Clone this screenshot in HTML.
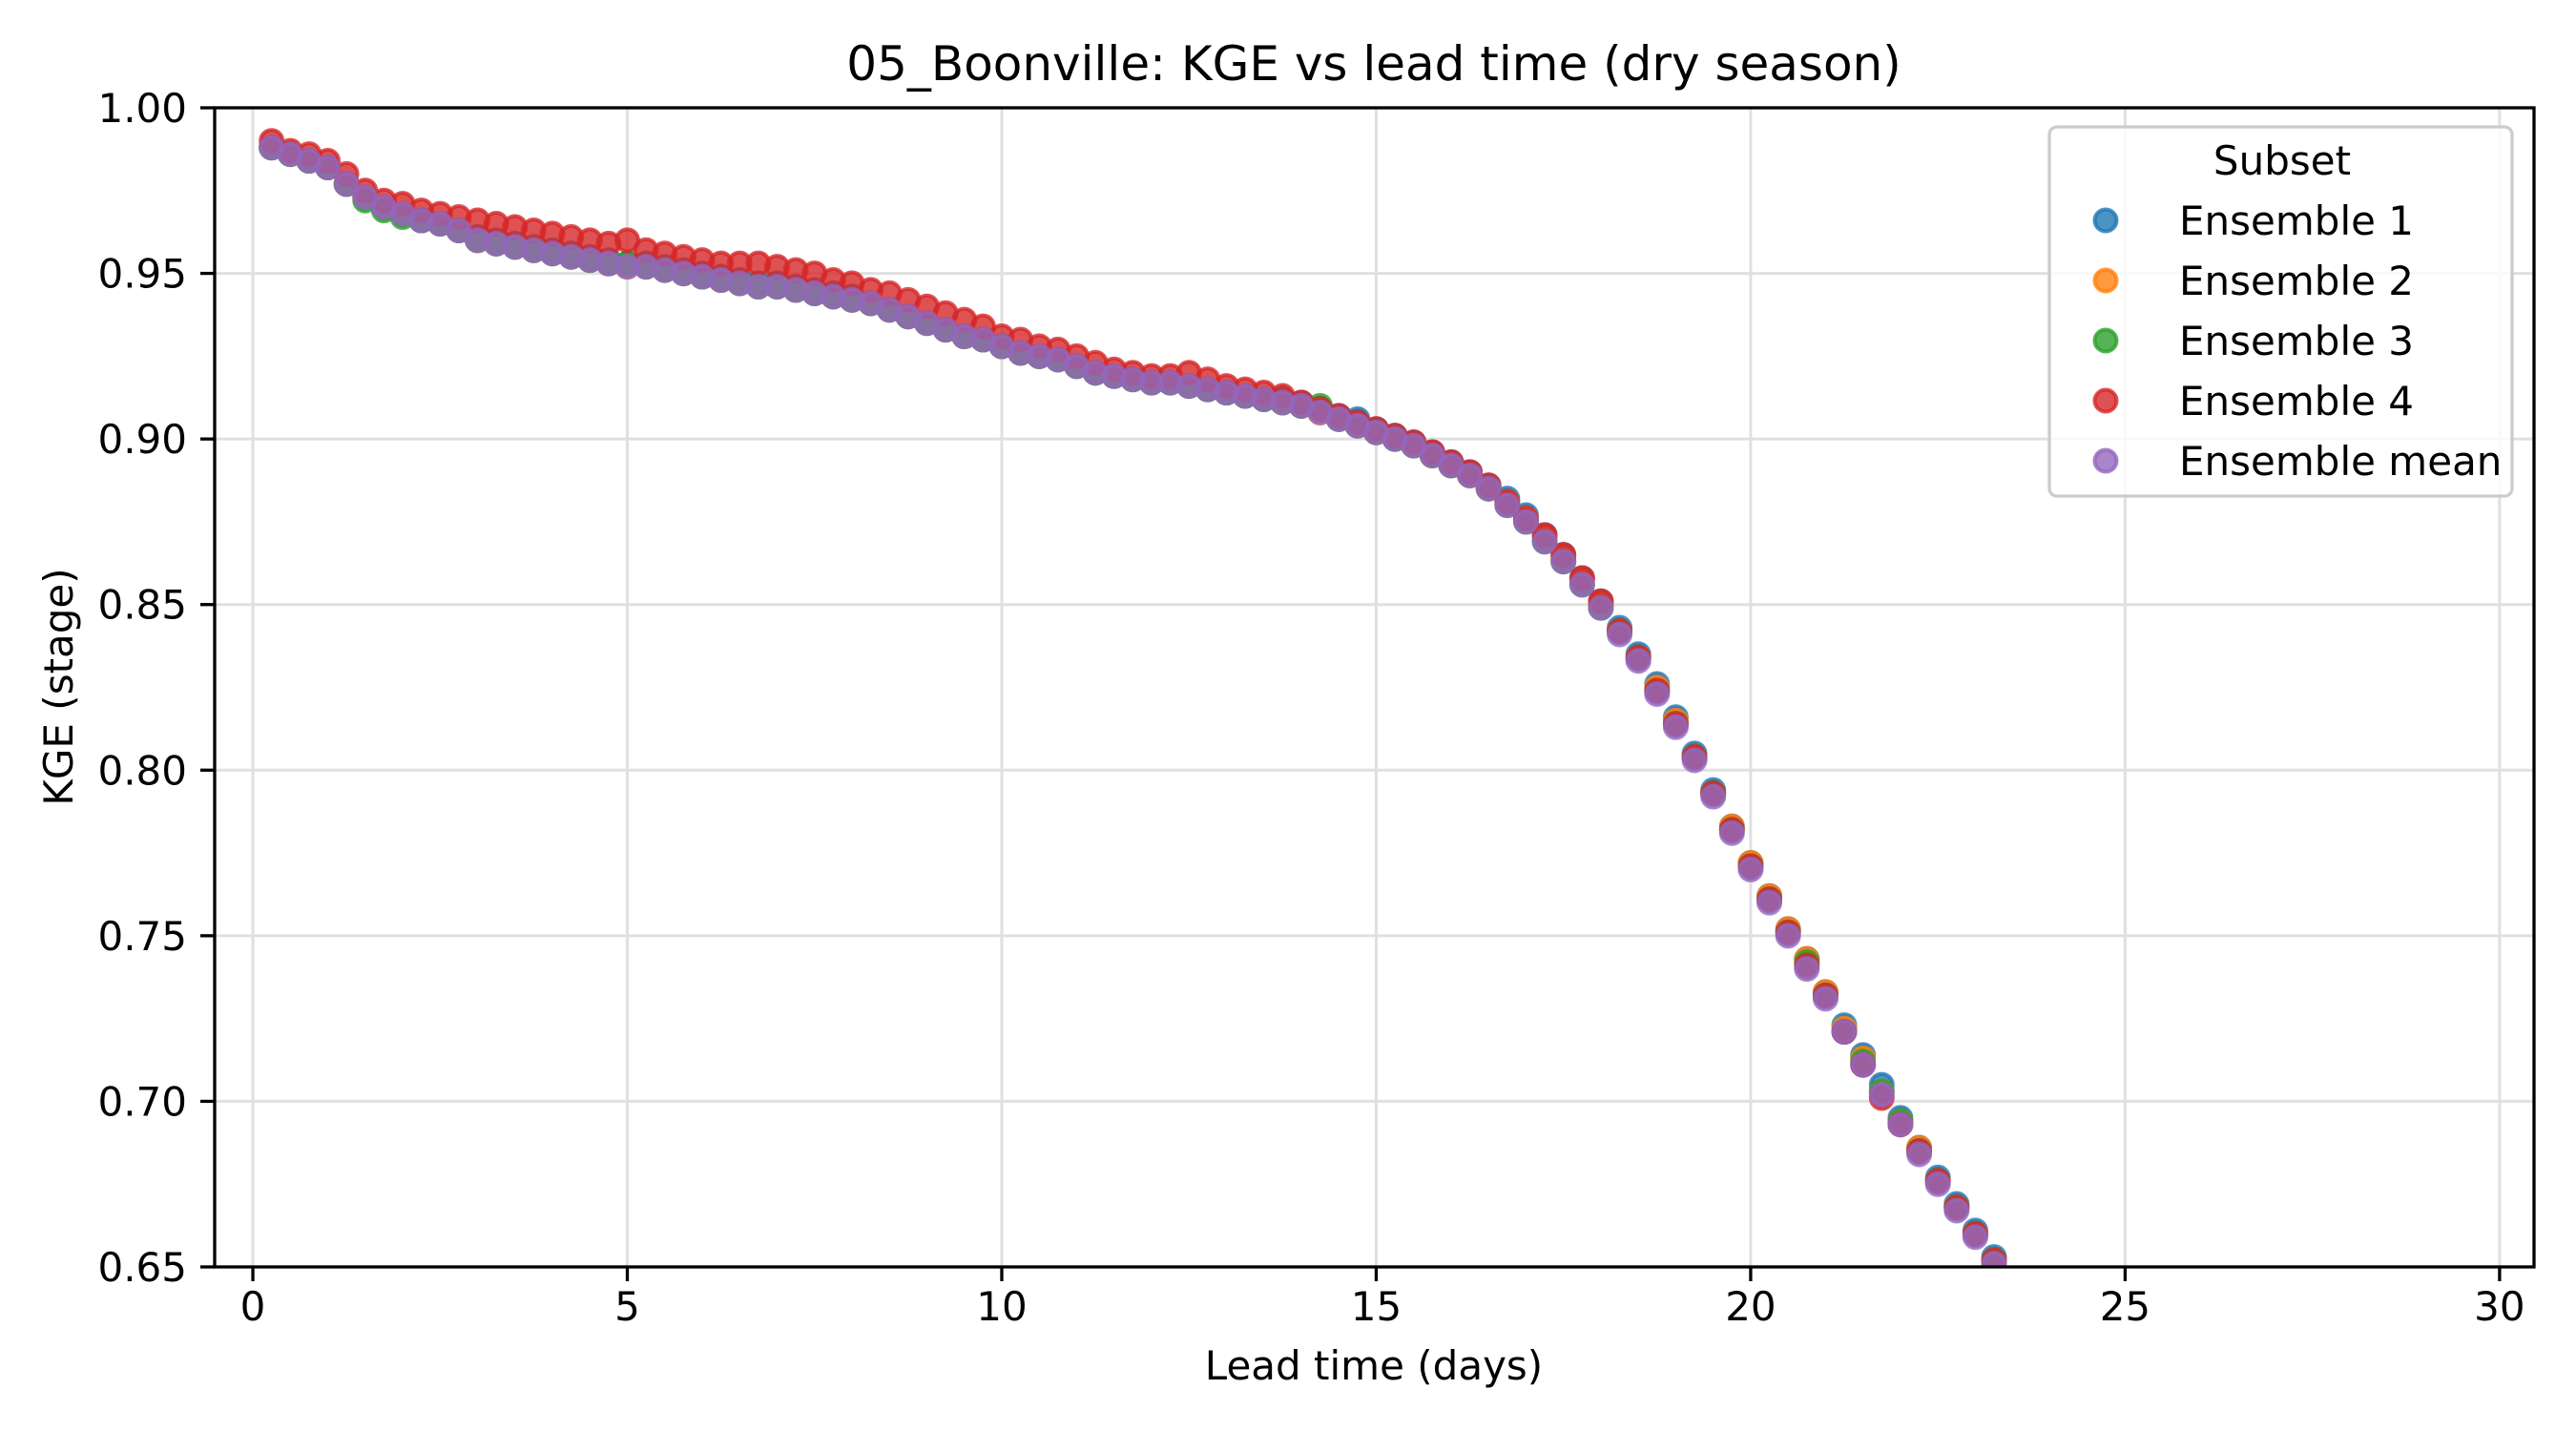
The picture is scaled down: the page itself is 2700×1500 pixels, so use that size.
<!DOCTYPE html>
<html><head><meta charset="utf-8"><style>
html,body{margin:0;padding:0;background:#fff;}
svg{display:block;font-family:"DejaVu Sans","Liberation Sans",sans-serif;}
</style></head><body>
<svg id="chart" width="2700" height="1500" viewBox="0 0 2700 1500" xmlns="http://www.w3.org/2000/svg">
<rect width="2700" height="1500" fill="#fff"/>
<g id="grid"></g>
<g id="marks"></g>
<g id="axes"></g>
<text x="1440" y="84" font-size="50" text-anchor="middle">05_Boonville: KGE vs lead time (dry season)</text>
<text x="1440" y="1446" font-size="42" text-anchor="middle">Lead time (days)</text>
<text x="0" y="0" font-size="42" text-anchor="middle" transform="translate(76,720) rotate(-90)">KGE (stage)</text>
<g id="legend"></g>
</svg>
<script>
const xTicks = [0,5,10,15,20,25,30];
const yTicks = [0.65,0.70,0.75,0.80,0.85,0.90,0.95,1.00];
const seriesNames = ["Ensemble 1","Ensemble 2","Ensemble 3","Ensemble 4","Ensemble mean"];
const leadStep = 0.25;
const ens1 = [0.988,0.986,0.984,0.982,0.977,0.973,0.970,0.968,0.966,0.965,
0.963,0.961,0.960,0.959,0.958,0.957,0.956,0.955,0.954,0.953,
0.953,0.952,0.951,0.950,0.949,0.948,0.947,0.947,0.946,0.945,
0.944,0.943,0.941,0.939,0.937,0.935,0.933,0.931,0.930,0.928,
0.926,0.925,0.924,0.922,0.920,0.919,0.918,0.917,0.917,0.916,
0.915,0.914,0.913,0.912,0.912,0.911,0.909,0.907,0.906,0.903,
0.901,0.899,0.896,0.893,0.890,0.886,0.882,0.877,0.871,0.865,
0.858,0.851,0.843,0.835,0.826,0.816,0.805,0.794,0.783,0.772,
0.762,0.752,0.743,0.733,0.723,0.714,0.705,0.695,0.686,0.677,
0.669,0.661,0.653,0.645];
const ens2 = [0.988,0.986,0.984,0.982,0.977,0.973,0.970,0.968,0.966,0.965,
0.963,0.960,0.959,0.958,0.957,0.956,0.955,0.954,0.953,0.952,
0.952,0.951,0.950,0.949,0.948,0.947,0.946,0.946,0.945,0.944,
0.943,0.942,0.941,0.939,0.937,0.935,0.933,0.931,0.930,0.928,
0.926,0.925,0.924,0.922,0.920,0.919,0.918,0.917,0.917,0.916,
0.915,0.914,0.913,0.912,0.911,0.910,0.908,0.906,0.904,0.902,
0.900,0.898,0.895,0.892,0.889,0.885,0.881,0.876,0.870,0.864,
0.857,0.850,0.842,0.834,0.825,0.815,0.804,0.793,0.783,0.772,
0.762,0.752,0.743,0.733,0.722,0.713,0.703,0.694,0.686,0.676,
0.668,0.660,0.652,0.644];
const ens3 = [0.988,0.986,0.984,0.982,0.977,0.972,0.969,0.967,0.966,0.965,
0.963,0.960,0.959,0.958,0.957,0.956,0.955,0.954,0.953,0.953,
0.952,0.951,0.950,0.949,0.948,0.947,0.946,0.946,0.945,0.944,
0.943,0.942,0.941,0.939,0.937,0.935,0.933,0.931,0.930,0.928,
0.926,0.925,0.924,0.922,0.920,0.919,0.918,0.917,0.917,0.916,
0.915,0.914,0.913,0.912,0.911,0.910,0.910,0.906,0.904,0.902,
0.900,0.898,0.895,0.892,0.889,0.885,0.880,0.875,0.869,0.863,
0.856,0.849,0.842,0.834,0.824,0.814,0.804,0.793,0.782,0.771,
0.761,0.751,0.742,0.732,0.721,0.712,0.703,0.694,0.685,0.676,
0.668,0.660,0.652,0.644];
const ens4 = [0.990,0.987,0.986,0.984,0.980,0.975,0.972,0.971,0.969,0.968,
0.967,0.966,0.965,0.964,0.963,0.962,0.961,0.960,0.959,0.960,
0.957,0.956,0.955,0.954,0.953,0.953,0.953,0.952,0.951,0.950,
0.948,0.947,0.945,0.944,0.942,0.940,0.938,0.936,0.934,0.931,
0.930,0.928,0.927,0.925,0.923,0.921,0.920,0.919,0.919,0.920,
0.918,0.916,0.915,0.914,0.913,0.911,0.909,0.907,0.905,0.903,
0.901,0.899,0.896,0.893,0.890,0.886,0.881,0.876,0.871,0.865,
0.858,0.851,0.842,0.834,0.824,0.814,0.804,0.793,0.782,0.771,
0.761,0.751,0.741,0.732,0.721,0.711,0.701,0.693,0.685,0.676,
0.668,0.660,0.652,0.644];
const ensMean = [0.988,0.986,0.984,0.982,0.977,0.973,0.970,0.968,0.966,0.965,
0.963,0.960,0.959,0.958,0.957,0.956,0.955,0.954,0.953,0.952,
0.952,0.951,0.950,0.949,0.948,0.947,0.946,0.946,0.945,0.944,
0.943,0.942,0.941,0.939,0.937,0.935,0.933,0.931,0.930,0.928,
0.926,0.925,0.924,0.922,0.920,0.919,0.918,0.917,0.917,0.916,
0.915,0.914,0.913,0.912,0.911,0.910,0.908,0.906,0.904,0.902,
0.900,0.898,0.895,0.892,0.889,0.885,0.880,0.875,0.869,0.863,
0.856,0.849,0.841,0.833,0.823,0.813,0.803,0.792,0.781,0.770,
0.760,0.750,0.740,0.731,0.721,0.711,0.702,0.693,0.684,0.675,
0.667,0.659,0.651,0.643];
const allSeries = [ens1,ens2,ens3,ens4,ensMean];
const colors = ["#1f77b4","#ff7f0e","#2ca02c","#d62728","#9467bd"];

const NS="http://www.w3.org/2000/svg";
const L=225,R=2656,T=113,B=1328;
const XMIN=-0.51,XMAX=30.46,YMIN=0.65,YMAX=1.0;
function xs(v){return L+(v-XMIN)/(XMAX-XMIN)*(R-L);}
function ys(v){return B-(v-YMIN)/(YMAX-YMIN)*(B-T);}
function mk(tag,attrs,parent){const e=document.createElementNS(NS,tag);for(const k in attrs)e.setAttribute(k,attrs[k]);parent.appendChild(e);return e;}
const grid=document.getElementById('grid'),axes=document.getElementById('axes'),marks=document.getElementById('marks'),legend=document.getElementById('legend');

xTicks.forEach(t=>{
  const x=xs(t);
  const g=mk('line',{x1:x,x2:x,y1:T,y2:B,stroke:'#e0e0e0','stroke-width':3},grid);
  
  
  const tk=mk('line',{x1:x,x2:x,y1:B,y2:B+15,stroke:'#000','stroke-width':3.3},axes);
  
  
  const lb=mk('text',{x:x,y:1384,'font-size':42,'text-anchor':'middle'},axes);
  lb.textContent=String(t);
  
  
});
yTicks.forEach(t=>{
  const y=ys(t);
  const g=mk('line',{x1:L,x2:R,y1:y,y2:y,stroke:'#e0e0e0','stroke-width':3},grid);
  
  
  const tk=mk('line',{x1:L-15,x2:L,y1:y,y2:y,stroke:'#000','stroke-width':3.3},axes);
  
  
  const lb=mk('text',{x:L-29,y:y+15,'font-size':42,'text-anchor':'end'},axes);
  lb.textContent=t.toFixed(2);
  
  
});

const clip=mk('clipPath',{id:'pc'},document.getElementById('chart'));
mk('rect',{x:L,y:T,width:R-L,height:B-T},clip);
marks.setAttribute('clip-path','url(#pc)');
allSeries.forEach((arr,si)=>{
  const g=mk('g',{},marks);
  
  
  arr.forEach((v,i)=>{
    const c=mk('circle',{cx:xs((i+1)*leadStep),cy:ys(v),r:11.5,fill:colors[si],'fill-opacity':0.8,stroke:colors[si],'stroke-opacity':0.8,'stroke-width':4},g);
    
    
  });
});

const frame=mk('rect',{x:L,y:T,width:R-L,height:B-T,fill:'none',stroke:'#000','stroke-width':3.3},axes);



const box=mk('rect',{x:2148,y:133,width:485,height:387,rx:8,fill:'#fff','fill-opacity':0.8,stroke:'#cccccc','stroke-width':3.3},legend);


const lt=mk('text',{x:2392,y:183,'font-size':42,'text-anchor':'middle'},legend);
lt.textContent='Subset';


seriesNames.forEach((n,i)=>{
  const cy=231+i*63;
  const g=mk('g',{},legend);
  
  
  mk('circle',{cx:2207,cy:cy,r:11.5,fill:colors[i],'fill-opacity':0.8,stroke:colors[i],'stroke-opacity':0.8,'stroke-width':4},g);
  const t=mk('text',{x:2284,y:cy+15,'font-size':42},g);
  t.textContent=n;
});
</script>
</body></html>
